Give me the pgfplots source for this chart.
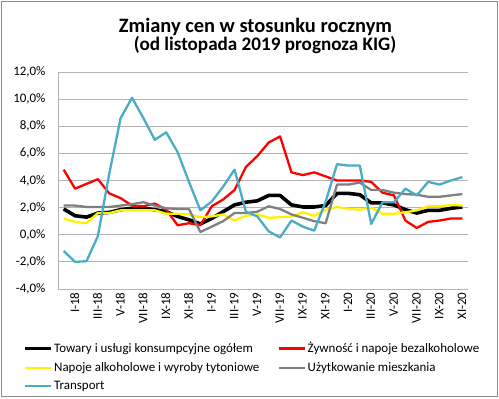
\documentclass[border=0pt]{standalone}
\usepackage{pgfplots}
\pgfplotsset{compat=1.18}
\usepackage{fontspec}
\setmainfont{Carlito}
\definecolor{tblue}{HTML}{4BACC6}
\definecolor{gridc}{HTML}{B4B4B4}
\definecolor{frame}{HTML}{8C8C8C}
\begin{document}
\begin{tikzpicture}[x=1bp,y=1bp]
\path (0,0) rectangle (499,398);
\draw[frame, line width=1bp] (1,1.5) rectangle (497,396.5);
\node[anchor=base, font=\fontsize{20.5}{24}\selectfont\bfseries] at (255.5,365.5) {Zmiany cen w stosunku rocznym};
\node[anchor=base, font=\fontsize{19.2}{23}\selectfont\bfseries] at (265,347.5) {(od listopada 2019 prognoza KIG)};
\begin{axis}[
  at={(58bp,109bp)}, anchor=south west,
  scale only axis, width=410bp, height=217bp,
  xmin=-0.5, xmax=35.5, ymin=-4, ymax=12,
  ytick={-4,-2,0,2,4,6,8,10,12},
  yticklabels={{-4,0\%},{-2,0\%},{0,0\%},{2,0\%},{4,0\%},{6,0\%},{8,0\%},{10,0\%},{12,0\%}},
  xtick={0,2,...,34},
  xticklabels={I-18,III-18,V-18,VII-18,IX-18,XI-18,I-19,III-19,V-19,VII-19,IX-19,XI-19,I-20,III-20,V-20,VII-20,IX-20,XI-20},
  xticklabel style={rotate=90, anchor=east, font=\fontsize{13}{15}\selectfont, yshift=-11bp},
  yticklabel style={font=\fontsize{13}{15}\selectfont, xshift=-9bp},
  ymajorgrids, grid style={gridc, line width=0.9bp},
  axis lines*=left, axis line style={gridc, line width=0.9bp},
  tick style={draw=none},
  major tick length=0pt,
  legend columns=2,
  legend cell align=left,
  legend style={at={(-0.093,-0.229)}, anchor=north west, draw=none, fill=none,
    font=\fontsize{13}{15}\selectfont, row sep=5bp,
    nodes={inner sep=1.5bp},
    /tikz/every even column/.append style={column sep=17bp}},
  legend image code/.code={\draw[#1] (0bp,0bp) -- (26bp,0bp);},
  every axis plot/.append style={line join=round},
]
\addplot[black, line width=3.6bp] coordinates {
(0,1.9)(1,1.4)(2,1.3)(3,1.6)(4,1.65)(5,1.85)(6,1.95)(7,1.95)(8,1.85)(9,1.7)(10,1.35)(11,1.1)
(12,0.8)(13,1.2)(14,1.7)(15,2.2)(16,2.4)(17,2.5)(18,2.9)(19,2.9)(20,2.2)(21,2.05)(22,2.05)(23,2.15)
(24,3.05)(25,3.05)(26,2.95)(27,2.35)(28,2.35)(29,2.2)(30,1.85)(31,1.6)(32,1.8)(33,1.8)(34,1.95)(35,2.05)};
\addlegendentry{Towary i usługi konsumpcyjne ogółem}
\addplot[red, line width=2.3bp] coordinates {
(0,4.8)(1,3.4)(2,3.75)(3,4.1)(4,3.05)(5,2.7)(6,2.15)(7,2.1)(8,2.3)(9,1.85)(10,0.7)(11,0.85)
(12,0.7)(13,2.1)(14,2.6)(15,3.3)(16,5.0)(17,5.8)(18,6.8)(19,7.25)(20,4.6)(21,4.4)(22,4.6)(23,4.3)
(24,4.0)(25,4.0)(26,4.0)(27,3.9)(28,3.1)(29,2.9)(30,1.05)(31,0.5)(32,0.95)(33,1.05)(34,1.2)(35,1.2)};
\addlegendentry{Żywność i napoje bezalkoholowe}
\addplot[yellow, line width=2.3bp] coordinates {
(0,1.2)(1,0.95)(2,0.85)(3,1.6)(4,1.6)(5,1.8)(6,1.8)(7,1.8)(8,1.8)(9,1.55)(10,1.55)(11,1.5)
(12,1.3)(13,1.35)(14,1.5)(15,1.05)(16,1.4)(17,1.5)(18,1.25)(19,1.3)(20,1.35)(21,1.65)(22,1.4)(23,1.85)
(24,2.05)(25,1.9)(26,1.85)(27,2.0)(28,1.55)(29,1.55)(30,1.65)(31,1.8)(32,2.1)(33,2.1)(34,2.2)(35,2.15)};
\addlegendentry{Napoje alkoholowe i wyroby tytoniowe}
\addplot[gray, line width=2.3bp] coordinates {
(0,2.15)(1,2.15)(2,2.05)(3,2.05)(4,2.05)(5,2.15)(6,2.25)(7,2.4)(8,2.15)(9,1.95)(10,1.9)(11,1.9)
(12,0.2)(13,0.6)(14,1.0)(15,1.6)(16,1.6)(17,1.7)(18,2.1)(19,1.9)(20,1.5)(21,1.25)(22,1.0)(23,0.85)
(24,3.7)(25,3.7)(26,3.85)(27,3.3)(28,3.3)(29,3.1)(30,3.0)(31,2.95)(32,2.8)(33,2.8)(34,2.9)(35,3.0)};
\addlegendentry{Użytkowanie mieszkania}
\addplot[tblue, line width=2.3bp] coordinates {
(0,-1.2)(1,-2.0)(2,-1.95)(3,-0.1)(4,4.5)(5,8.6)(6,10.1)(7,8.6)(8,7.0)(9,7.55)(10,6.1)(11,3.9)
(12,1.8)(13,2.45)(14,3.55)(15,4.8)(16,1.7)(17,1.35)(18,0.25)(19,-0.2)(20,1.05)(21,0.6)(22,0.3)(23,2.45)
(24,5.2)(25,5.1)(26,5.1)(27,0.8)(28,2.4)(29,2.4)(30,3.4)(31,2.9)(32,3.9)(33,3.7)(34,4.0)(35,4.25)};
\addlegendentry{Transport}
\end{axis}
\end{tikzpicture}
\end{document}
